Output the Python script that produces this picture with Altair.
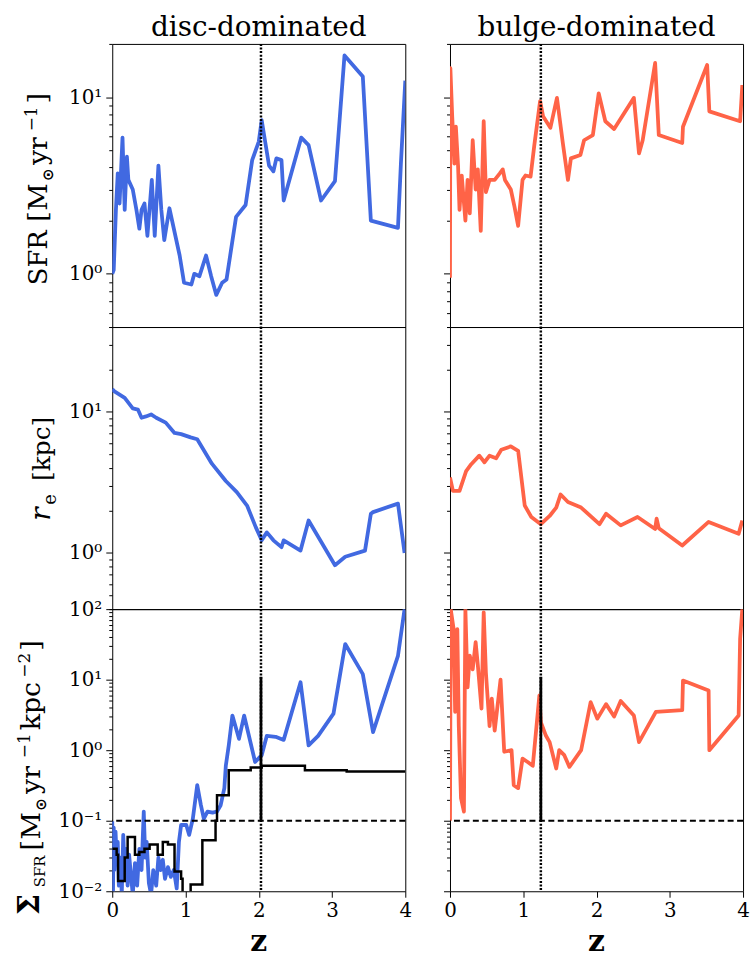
import altair as alt
import pandas as pd

# ---------------- data ----------------
disc_sfr_z = [0.0, 0.02, 0.05, 0.075, 0.10, 0.14, 0.17, 0.20, 0.22, 0.28, 0.33, 0.37, 0.40, 0.44, 0.48,
              0.54, 0.58, 0.63, 0.67, 0.71, 0.78, 0.92, 0.98, 1.08, 1.12, 1.19, 1.28, 1.35, 1.42, 1.50,
              1.56, 1.69, 1.82, 1.91, 2.00, 2.04, 2.09, 2.14, 2.20, 2.24, 2.31, 2.34, 2.58, 2.68, 2.85,
              3.04, 3.17, 3.42, 3.53, 3.90, 3.94, 4.0]
disc_sfr = [1.0, 1.05, 2.3, 3.7, 2.5, 5.9, 2.3, 4.6, 3.4, 3.0, 2.3, 1.8, 2.3, 2.5, 1.64,
            3.4, 1.64, 4.1, 2.3, 1.55, 2.35, 1.27, 0.89, 0.87, 1.0, 0.97, 1.27, 0.97, 0.76, 0.89,
            0.93, 2.1, 2.45, 4.4, 5.6, 7.4, 5.5, 4.1, 3.8, 4.5, 4.4, 2.6, 5.9, 5.35, 2.6,
            3.35, 17.2, 13.1, 2.0, 1.82, 4.2, 12.4]

bulge_sfr_z = [0.0, 0.005, 0.03, 0.06, 0.08, 0.11, 0.13, 0.16, 0.21, 0.24, 0.27, 0.31, 0.35, 0.38, 0.42,
               0.46, 0.49, 0.54, 0.61, 0.68, 0.72, 0.75, 0.83, 0.88, 0.93, 0.99, 1.03, 1.10, 1.15, 1.23,
               1.27, 1.37, 1.46, 1.54, 1.61, 1.65, 1.78, 1.83, 1.95, 2.03, 2.12, 2.24, 2.51, 2.58, 2.63,
               2.80, 2.85, 3.17, 3.18, 3.51, 3.54, 3.96, 3.99]
bulge_sfr = [0.95, 14.6, 7.8, 4.2, 6.8, 4.1, 2.3, 3.6, 2.0, 3.4, 2.2, 5.7, 3.0, 3.9, 1.75,
             7.3, 2.9, 3.4, 3.4, 3.7, 3.9, 3.4, 3.0, 2.4, 1.87, 3.4, 3.6, 3.55, 5.3, 9.5,
             7.8, 6.7, 9.9, 5.5, 3.4, 4.5, 4.7, 5.7, 6.1, 10.5, 7.3, 6.6, 9.9, 4.8, 5.7,
             15.6, 6.1, 5.5, 6.8, 15.2, 8.3, 7.3, 11.7]

disc_re_z = [0.0, 0.03, 0.17, 0.28, 0.35, 0.40, 0.46, 0.53, 0.60, 0.73, 0.85, 0.94, 1.07, 1.16, 1.36,
             1.55, 1.70, 1.84, 1.96, 2.04, 2.11, 2.20, 2.31, 2.34, 2.57, 2.68, 3.04, 3.18, 3.45, 3.53,
             3.56, 3.90, 3.99]
disc_re = [14.5, 14.0, 12.6, 10.6, 10.4, 9.1, 9.3, 9.6, 9.1, 8.4, 7.1, 6.96, 6.6, 6.4, 4.3,
           3.24, 2.7, 2.17, 1.52, 1.23, 1.4, 1.23, 1.1, 1.23, 1.04, 1.7, 0.82, 0.94, 1.04, 1.9,
           1.95, 2.24, 1.0]

bulge_re_z = [0.0, 0.04, 0.13, 0.22, 0.29, 0.40, 0.47, 0.54, 0.63, 0.70, 0.83, 0.93, 1.02, 1.11, 1.24,
              1.36, 1.45, 1.51, 1.61, 1.79, 2.04, 2.13, 2.33, 2.56, 2.80, 2.82, 2.85, 3.17, 3.53, 3.94,
              3.99]
bulge_re = [3.43, 2.76, 2.76, 3.8, 4.26, 4.9, 4.4, 4.9, 4.7, 5.4, 5.7, 5.3, 2.17, 1.8, 1.6,
            1.83, 2.1, 2.6, 2.3, 2.1, 1.6, 1.9, 1.57, 1.8, 1.48, 1.75, 1.5, 1.13, 1.66, 1.37,
            1.7]

disc_sig_z = [0.0, 0.01, 0.02, 0.03, 0.045, 0.06, 0.075, 0.09, 0.11, 0.13, 0.15, 0.17, 0.19, 0.21, 0.23,
              0.26, 0.28, 0.31, 0.34, 0.37, 0.40, 0.43, 0.45, 0.47, 0.50, 0.53, 0.56, 0.60, 0.63, 0.66,
              0.69, 0.72, 0.76, 0.80, 0.84, 0.88, 0.91, 0.94, 1.01, 1.05, 1.10, 1.16, 1.21, 1.25, 1.30,
              1.37, 1.43, 1.48, 1.53, 1.55, 1.59, 1.64, 1.73, 1.80, 1.95, 2.04, 2.11, 2.23, 2.34, 2.57,
              2.68, 2.81, 3.02, 3.18, 3.42, 3.56, 3.90, 3.99]
disc_sig = [0.098, 0.009, 0.08, 0.02, 0.07, 0.03, 0.05, 0.012, 0.03, 0.009, 0.063, 0.02, 0.04, 0.012, 0.033,
            0.015, 0.009, 0.025, 0.012, 0.04, 0.02, 0.135, 0.03, 0.05, 0.013, 0.009, 0.02, 0.012, 0.03, 0.02,
            0.028, 0.015, 0.022, 0.016, 0.02, 0.011, 0.05, 0.087, 0.087, 0.063, 0.107, 0.32, 0.166, 0.107, 0.135,
            0.13, 0.135, 0.166, 0.29, 0.6, 1.17, 3.1, 1.45, 3.1, 0.68, 0.85, 1.6, 1.55, 1.4, 9.2,
            1.17, 1.6, 3.3, 32.0, 12.0, 1.8, 21.8, 100.0]

disc_thr_z = [0.0, 0.06, 0.08, 0.17, 0.21, 0.31, 0.37, 0.44, 0.51, 0.62, 0.69, 0.76, 0.85, 0.94, 0.96,
              1.07, 1.23, 1.41, 1.43, 1.59, 1.89, 2.04, 2.63, 3.20, 4.0]
disc_thr = [0.04, 0.033, 0.014, 0.03, 0.059, 0.033, 0.036, 0.04, 0.046, 0.033, 0.05, 0.046, 0.019, 0.015, 0.009,
            0.0125, 0.053, 0.10, 0.23, 0.52, 0.57, 0.6, 0.52, 0.5, 0.5]

bulge_sig_z = [0.0, 0.01, 0.05, 0.07, 0.10, 0.12, 0.15, 0.19, 0.21, 0.24, 0.27, 0.31, 0.35, 0.38, 0.43,
               0.46, 0.49, 0.54, 0.57, 0.61, 0.69, 0.74, 0.84, 0.87, 0.93, 0.99, 1.06, 1.13, 1.22, 1.24,
               1.31, 1.36, 1.45, 1.49, 1.56, 1.63, 1.79, 1.92, 2.01, 2.13, 2.24, 2.33, 2.51, 2.58, 2.81,
               3.17, 3.18, 3.53, 3.54, 3.94, 3.96, 3.99]
bulge_sig = [0.1, 100.0, 52.0, 3.5, 52.0, 2.2, 0.21, 0.135, 100.0, 7.8, 22.0, 14.0, 34.0, 16.0, 3.9,
             90.0, 12.6, 2.2, 5.4, 1.9, 10.0, 0.95, 1.0, 0.32, 0.29, 0.76, 0.68, 0.6, 6.0, 2.5,
             1.6, 1.3, 0.55, 1.0, 0.85, 0.58, 1.0, 4.8, 2.8, 4.5, 3.0, 5.0, 3.1, 1.3, 3.5,
             3.7, 9.7, 7.0, 1.0, 3.1, 38.0, 100.0]

Z_DISC = 2.03        # dotted marker, disc-dominated
Z_BULGE = 1.24       # dotted marker, bulge-dominated
SIGMA_THRESH = 0.1   # dashed threshold
MARK_TOP = 11.0      # top of the solid marker in the bottom panels

col_titles = ["disc-dominated", "bulge-dominated"]
x_ticks = [0, 1, 2, 3, 4]

# ---------------- style ----------------
BLUE = "#4169E1"
RED = "#FF6347"
FONT = "DejaVu Serif"
W = 295
HEIGHTS = [285, 284, 284]
DOMAINS = [[0.5, 20], [0.4, 40], [0.01, 100]]


def log_ticks(lo, hi):
    out = []
    for e in range(-3, 4):
        for m in range(1, 10):
            v = round(m * 10.0 ** e, 10)
            if lo * 0.999999 <= v <= hi * 1.000001:
                out.append(v)
    return out


MAJOR = "datum.value == 100 || datum.value == 10 || datum.value == 1 || datum.value == 0.1 || datum.value == 0.01"
LABEL_EXPR = ("datum.value == 100 ? '10²' : datum.value == 10 ? '10¹' : datum.value == 1 ? '10⁰' : "
              "datum.value == 0.1 ? '10⁻¹' : datum.value == 0.01 ? '10⁻²' : ''")


def yaxis(row, labels):
    kw = dict(values=log_ticks(*DOMAINS[row]), tickSize={"condition": {"test": MAJOR, "value": 6.5}, "value": 3.5},
              tickColor="black", tickWidth=1, domain=False, grid=False, title=None,
              labelFont=FONT, labelFontSize=20, labelColor="black", labelPadding=4,
              labelOverlap=False, labelFlush=False)
    if labels:
        kw["labelExpr"] = LABEL_EXPR
    else:
        kw["labels"] = False
    return alt.Axis(**kw)


xaxis_bottom = alt.Axis(values=x_ticks, format="d", tickSize=6, tickColor="black", domain=False, grid=False,
                        title=None, labelFont=FONT, labelFontSize=20, labelColor="black", labelPadding=3,
                        labelFlush=False)

one = pd.DataFrame({"k": [0]})


def seg(text, x, y, size, weight="normal", style="normal", font=FONT, angle=270, align="left"):
    return alt.Chart(one).mark_text(text=text, angle=angle, align=align, baseline="alphabetic", font=font,
                                    fontSize=size, fontWeight=weight, fontStyle=style,
                                    color="black").encode(x=alt.value(x), y=alt.value(y))


def line_df(zs, vs):
    return pd.DataFrame({"z": zs, "v": vs, "i": list(range(len(zs)))})


def panel(row, col):
    xs = alt.Scale(domain=[0, 4], nice=False, zero=False)
    ys = alt.Scale(type="log", domain=DOMAINS[row], nice=False)
    X = alt.X("z:Q", scale=xs, axis=xaxis_bottom if row == 2 else None)
    Y = alt.Y("v:Q", scale=ys, axis=yaxis(row, col == 0))
    color = BLUE if col == 0 else RED
    zsplit = Z_DISC if col == 0 else Z_BULGE
    H = HEIGHTS[row]

    layers = []
    if row == 0:
        df = line_df(disc_sfr_z, disc_sfr) if col == 0 else line_df(bulge_sfr_z, bulge_sfr)
    elif row == 1:
        df = line_df(disc_re_z, disc_re) if col == 0 else line_df(bulge_re_z, bulge_re)
    else:
        df = line_df(disc_sig_z, disc_sig) if col == 0 else line_df(bulge_sig_z, bulge_sig)
    layers.append(alt.Chart(df).mark_line(color=color, strokeWidth=3.8, clip=True, strokeJoin="round")
                  .encode(x=X, y=Y, order="i:Q"))
    if row == 2 and col == 0:
        layers.append(alt.Chart(line_df(disc_thr_z, disc_thr))
                      .mark_line(color="black", strokeWidth=2.5, clip=True, interpolate="step-after")
                      .encode(x=X, y=Y, order="i:Q"))
    # dotted marker
    layers.append(alt.Chart(pd.DataFrame({"z": [zsplit]}))
                  .mark_rule(color="black", strokeWidth=2.5, strokeDash=[2, 1.6]).encode(x=X))
    if row == 2:
        layers.append(alt.Chart(pd.DataFrame({"v": [SIGMA_THRESH]}))
                      .mark_rule(color="black", strokeWidth=2, strokeDash=[6, 3.5]).encode(y=Y))
        layers.append(alt.Chart(pd.DataFrame({"z": [zsplit], "v": [SIGMA_THRESH], "v2": [MARK_TOP]}))
                      .mark_rule(color="black", strokeWidth=2.8).encode(x=X, y=Y, y2="v2:Q"))
        layers.append(seg("z", W / 2, H + 60, 30, weight="bold", angle=0, align="center"))
    if row == 0:
        layers.append(seg(col_titles[col], W / 2, -8, 28, angle=0, align="center"))
        if col == 0:
            # layout anchor (invisible, white on white)
            layers.append(alt.Chart(one).mark_rect(color="white", strokeWidth=0)
                          .encode(x=alt.value(-112.5), x2=alt.value(-111.5), y=alt.value(-40), y2=alt.value(-39)))
    if col == 0:
        if row == 0:
            # panel top is at screen y=40
            layers += [seg("SFR", -65.5, 243, 26), seg("[", -65.5, 179, 27), seg("M", -65.5, 168, 27),
                       seg("⊙", -59.5, 138, 15, weight="bold", font="DejaVu Sans"),
                       seg("yr", -65.5, 122, 27), seg("−1", -75.5, 88, 17), seg("]", -65.5, 60, 27)]
        elif row == 1:
            # panel top is at screen y=325
            layers += [seg("r", -62.5, 195, 28, style="italic"), seg("e", -57, 179, 18),
                       seg("[kpc]", -62.5, 155, 25)]
        else:
            # panel top is at screen y=609
            layers += [seg("Σ", -73.5, 308, 30, weight="bold"), seg("SFR", -68, 280, 15),
                       seg("[", -72.5, 243, 27), seg("M", -72.5, 232, 27),
                       seg("⊙", -66.5, 203, 15, weight="bold", font="DejaVu Sans"),
                       seg("yr", -72.5, 186, 27), seg("−1", -83, 150, 17), seg("kpc", -72.5, 122, 27),
                       seg("−2", -83, 69, 17), seg("]", -72.5, 42, 27)]
    return alt.layer(*layers).properties(width=W, height=H)


panels = [panel(r, c) for r in range(3) for c in range(2)]
chart = alt.concat(*panels, columns=2, spacing={"row": 0, "column": 45}, bounds="flush")
chart = chart.configure_view(stroke="black", strokeWidth=1).properties(padding=0, background="white")
chart.save("out.html", embed_options={"renderer": "svg", "actions": False})
